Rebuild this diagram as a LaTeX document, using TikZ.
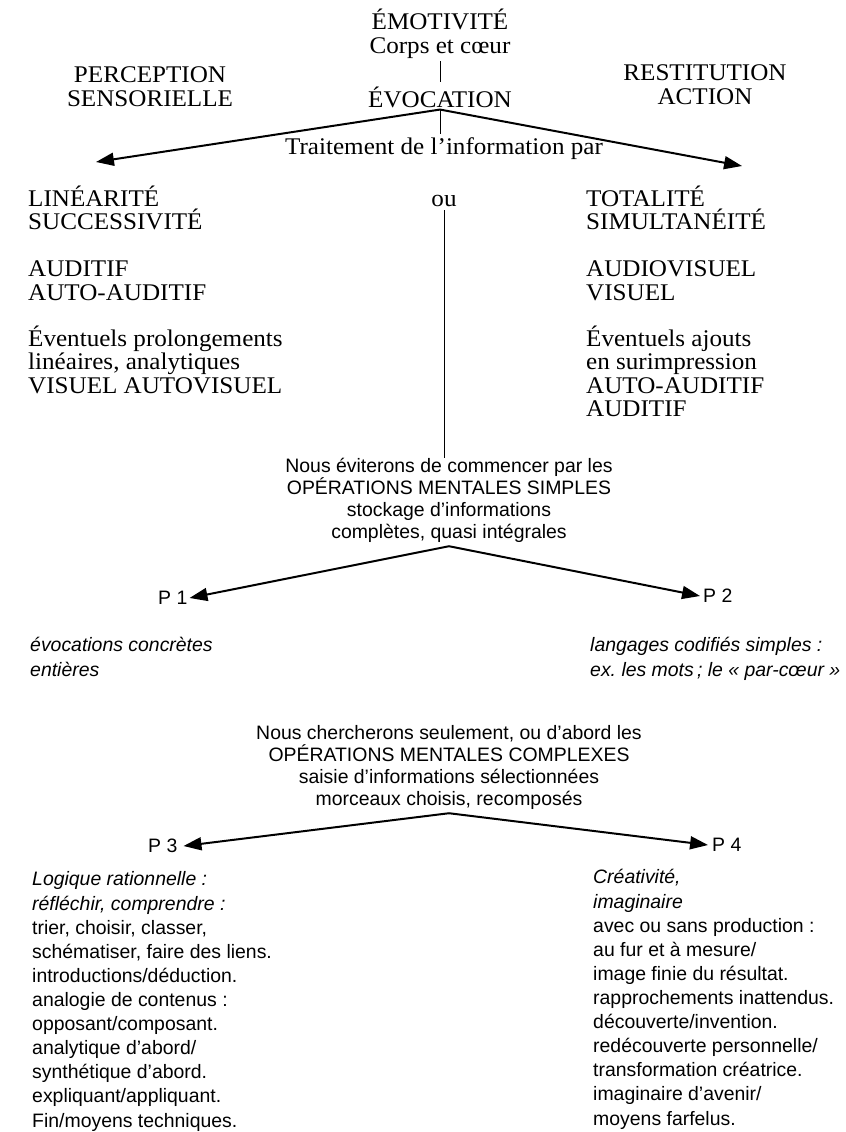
\documentclass[tikz,border=0pt]{standalone}
\usepackage{fontspec}
\setmainfont{Liberation Serif}[FakeStretch=1.05]
\newfontfamily\plainsans{Liberation Sans}
\usetikzlibrary{arrows.meta,positioning}
\frenchspacing

\tikzset{
  serif/.style={font=\fontsize{24}{23.5}\selectfont, inner sep=0pt},
  sans/.style={font=\plainsans\fontsize{19.5}{24.2}\selectfont, inner sep=0pt},
  sanscentre/.style={font=\plainsans\fontsize{19.5}{22}\selectfont, inner sep=0pt, align=center},
  bigarrow/.style={line width=2pt, -{Triangle[length=18pt,width=13pt]}},
  thinline/.style={line width=0.9pt}
}

\begin{document}
\begin{tikzpicture}[x=1bp,y=-1bp]
  \useasboundingbox (0,0) rectangle (846,1132);
  % top part
  \node[serif, anchor=base] (emot) at (440,29) {ÉMOTIVITÉ};
  \node[serif, anchor=base] (corps) at (440,53) {Corps et cœur};
  \node[serif, anchor=base, align=center] (percep) at (150,106) {PERCEPTION\\SENSORIELLE};
  \node[serif, anchor=base, align=center] (restit) at (705,104) {RESTITUTION\\ACTION};
  \node[serif, anchor=base] (evoc) at (440,107) {ÉVOCATION};
  \node[serif, anchor=base] (traite) at (444,154) {Traitement de l’information par};
  \coordinate (tipL) at (96,162);
  \coordinate (tipR) at (742,166);
  \coordinate (fork) at ([yshift=-2pt]evoc.south);
  \draw[thinline] ([yshift=-3pt]corps.south) -- ([yshift=4pt]corps.south |- evoc.north);
  \draw[thinline] (fork) -- ([yshift=3pt]fork |- traite.north);
  \draw[bigarrow] (fork) -- (tipL);
  \draw[bigarrow] (fork) -- (tipR);
  % two columns
  \node[serif, anchor=base west, align=left] (linea) at (28,393)
    {LINÉARITÉ\\SUCCESSIVITÉ\\[24bp]AUDITIF\\AUTO-AUDITIF\\[22.5bp]Éventuels prolongements\\linéaires, analytiques\\VISUEL AUTOVISUEL};
  \node[serif, anchor=base] (ou) at (444,206) {ou};
  \node[serif, anchor=base west, align=left] (total) at (586,416.5)
    {TOTALITÉ\\SIMULTANÉITÉ\\[24bp]AUDIOVISUEL\\VISUEL\\[22.5bp]Éventuels ajouts\\en surimpression\\AUTO-AUDITIF\\AUDITIF};
  % simple operations
  \node[sanscentre, anchor=base] (simples) at (449,538)
    {Nous éviterons de commencer par les\\OPÉRATIONS MENTALES SIMPLES\\stockage d’informations\\complètes, quasi intégrales};
  \draw[thinline] ([yshift=-4pt]ou.south) -- (ou.south |- simples.north);
  \node[sans, anchor=west] (p1) at (158,598) {P 1};
  \node[sans, anchor=west] (p2) at (703,596) {P 2};
  \draw[bigarrow] ([yshift=-4pt]simples.south) -- ([xshift=2pt]p1.east);
  \draw[bigarrow] ([yshift=-4pt]simples.south) -- ([xshift=-3pt]p2.west);
  \node[sans, anchor=base west, align=left] (concretes) at (30,676)
    {\itshape évocations concrètes\\\itshape entières};
  \node[sans, anchor=base west, align=left] (codifies) at (590,676)
    {\itshape langages codifiés simples :\\\itshape ex. les mots\,; le «~par-cœur~»};
  % complex operations
  \node[sanscentre, anchor=base] (complexes) at (449,805)
    {Nous chercherons seulement, ou d’abord les\\OPÉRATIONS MENTALES COMPLEXES\\saisie d’informations sélectionnées\\morceaux choisis, recomposés};
  \node[sans, anchor=west] (p3) at (148,846) {P 3};
  \node[sans, anchor=west] (p4) at (712,845) {P 4};
  \draw[bigarrow] ([yshift=-4pt]complexes.south) -- ([xshift=6pt]p3.east);
  \draw[bigarrow] ([yshift=-4pt]complexes.south) -- ([xshift=-4pt]p4.west);
  \node[sans, anchor=base west, align=left] (logique) at (32,1127)
    {\itshape Logique rationnelle :\\\itshape réfléchir, comprendre :\\trier, choisir, classer,\\schématiser, faire des liens.\\introductions/déduction.\\analogie de contenus :\\opposant/composant.\\analytique d’abord/\\synthétique d’abord.\\expliquant/appliquant.\\Fin/moyens techniques.};
  \node[sans, anchor=base west, align=left] (creativite) at (593,1125)
    {\itshape Créativité,\\\itshape imaginaire\\avec ou sans production :\\au fur et à mesure/\\image finie du résultat.\\rapprochements inattendus.\\découverte/invention.\\redécouverte personnelle/\\transformation créatrice.\\imaginaire d’avenir/\\moyens farfelus.};
\end{tikzpicture}
\end{document}
